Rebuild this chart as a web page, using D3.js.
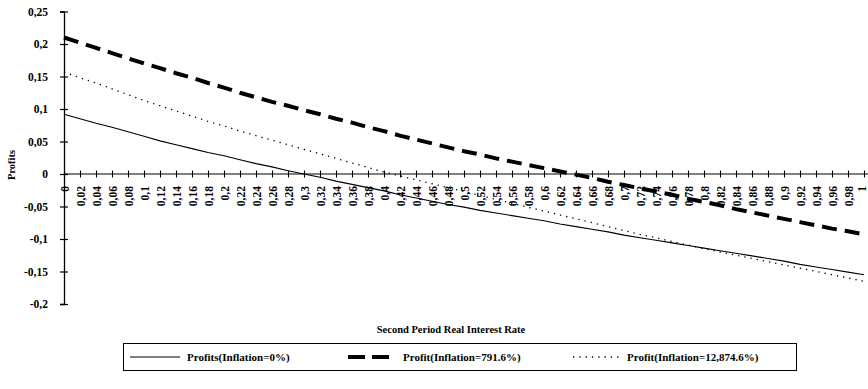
<!DOCTYPE html>
<html><head><meta charset="utf-8">
<script src="https://cdn.jsdelivr.net/npm/d3@7"></script>
<style>body{margin:0;background:#fff}svg{display:block}text{font-family:"Liberation Serif","Times New Roman",serif;font-weight:bold;fill:#000}</style>
</head><body><svg id="c" width="868" height="389"></svg>
<script>
const rates = [0,0.02,0.04,0.06,0.08,0.1,0.12,0.14,0.16,0.18,0.2,0.22,0.24,0.26,0.28,0.3,0.32,0.34,0.36,0.38,0.4,0.42,0.44,0.46,0.48,0.5,0.52,0.54,0.56,0.58,0.6,0.62,0.64,0.66,0.68,0.7,0.72,0.74,0.76,0.78,0.8,0.82,0.84,0.86,0.88,0.9,0.92,0.94,0.96,0.98,1];
const profits0 = [0.092,0.085,0.078,0.072,0.065,0.058,0.051,0.045,0.039,0.033,0.028,0.022,0.016,0.011,0.005,0.000,-0.005,-0.011,-0.016,-0.021,-0.026,-0.032,-0.037,-0.042,-0.047,-0.051,-0.056,-0.060,-0.064,-0.068,-0.072,-0.077,-0.081,-0.085,-0.089,-0.094,-0.098,-0.102,-0.106,-0.110,-0.114,-0.118,-0.122,-0.126,-0.130,-0.134,-0.139,-0.143,-0.147,-0.151,-0.155];
const profit791 = [0.210,0.202,0.194,0.186,0.178,0.170,0.163,0.155,0.148,0.140,0.133,0.125,0.118,0.111,0.105,0.098,0.092,0.085,0.079,0.072,0.066,0.059,0.053,0.047,0.041,0.035,0.030,0.024,0.019,0.014,0.009,0.004,-0.001,-0.006,-0.012,-0.017,-0.022,-0.027,-0.032,-0.038,-0.043,-0.048,-0.054,-0.059,-0.064,-0.069,-0.074,-0.079,-0.084,-0.088,-0.093];
const profit12874 = [0.157,0.148,0.140,0.131,0.122,0.113,0.105,0.097,0.089,0.081,0.074,0.066,0.059,0.052,0.045,0.038,0.031,0.024,0.017,0.010,0.003,-0.003,-0.009,-0.015,-0.021,-0.027,-0.033,-0.039,-0.045,-0.051,-0.057,-0.063,-0.069,-0.075,-0.081,-0.087,-0.093,-0.098,-0.104,-0.109,-0.115,-0.120,-0.125,-0.130,-0.135,-0.140,-0.145,-0.150,-0.155,-0.160,-0.165];
const yTicks = [0.25,0.2,0.15,0.1,0.05,0,-0.05,-0.1,-0.15,-0.2];
const yTickLabels = ["0,25","0,2","0,15","0,1","0,05","0","-0,05","-0,1","-0,15","-0,2"];
const seriesNames = ["Profits(Inflation=0%)","Profit(Inflation=791.6%)","Profit(Inflation=12,874.6%)"];
const yTitle = "Profits", xTitle = "Second Period Real Interest Rate";

const svg = d3.select("#c");
const x = d3.scalePoint().domain(rates).range([64, 864]);
const y = d3.scaleLinear().domain([-0.2, 0.25]).range([304, 11.5]);
const fmt = d => String(d).replace(".", ",");

// y axis
const ya = svg.append("g").attr("transform","translate(64,0)")
  .call(d3.axisLeft(y).tickValues(yTicks).tickSize(4).tickPadding(12)
    .tickFormat((d,i)=>yTickLabels[i]));
ya.select(".domain").attr("stroke","#000").attr("stroke-width",1.3);
ya.selectAll(".tick line").attr("x1",-4).attr("x2",4).attr("stroke","#000").attr("stroke-width",1.2);
ya.selectAll(".tick text").attr("font-size",11.5).attr("font-family","Liberation Serif").attr("font-weight","bold").attr("fill","#000");

// x axis at zero
const xa = svg.append("g").attr("transform",`translate(0,${y(0)})`)
  .call(d3.axisBottom(x).tickSizeOuter(0).tickSize(3.5).tickFormat(fmt));
xa.select(".domain").attr("stroke","#000").attr("stroke-width",1.2).attr("d",`M64,0H868`);
xa.selectAll(".tick line").attr("y1",-3.5).attr("y2",3.5).attr("stroke","#000").attr("stroke-width",1.1);
xa.selectAll(".tick text")
  .attr("font-size",11.5).attr("font-family","Liberation Serif").attr("font-weight","bold").attr("fill","#000")
  .attr("text-anchor","end").attr("y",0).attr("dy","0.35em")
  .attr("transform",(d,i,n)=> i===n.length-1 ? "translate(-3,12) rotate(-90)" : "translate(0,12) rotate(-90)");

// lines
const line = d3.line().x((d,i)=>x(rates[i])).y(d=>y(d));
svg.append("path").datum(profits0).attr("d",line).attr("fill","none").attr("stroke","#000").attr("stroke-width",1.1);
svg.append("path").datum(profit791).attr("d",line).attr("fill","none").attr("stroke","#000").attr("stroke-width",4).attr("stroke-dasharray","15,8");
svg.append("path").datum(profit12874).attr("d",line).attr("fill","none").attr("stroke","#000").attr("stroke-width",1.3).attr("stroke-dasharray","1.3,5");

// titles
svg.append("text").attr("transform","translate(15,165) rotate(-90)").attr("text-anchor","middle")
  .attr("font-size",10.5).text(yTitle);
svg.append("text").attr("x",451).attr("y",333).attr("text-anchor","middle").attr("font-size",10.5).text(xTitle);

// legend
const lg = svg.append("g");
lg.append("rect").attr("x",123.5).attr("y",343.5).attr("width",673).attr("height",27).attr("fill","none").attr("stroke","#000").attr("stroke-width",1);
const items = [
  {x1:130,x2:180,tx:187,w:1.1,da:null},
  {x1:348,x2:396,tx:403,w:4,da:"17,7"},
  {x1:573,x2:620,tx:627,w:1.3,da:"1.3,5"}
];
items.forEach((it,i)=>{
  lg.append("line").attr("x1",it.x1).attr("x2",it.x2).attr("y1",357).attr("y2",357)
    .attr("stroke","#000").attr("stroke-width",it.w).attr("stroke-dasharray",it.da);
  lg.append("text").attr("x",it.tx).attr("y",361).attr("font-size",11).text(seriesNames[i]);
});
</script></body></html>
